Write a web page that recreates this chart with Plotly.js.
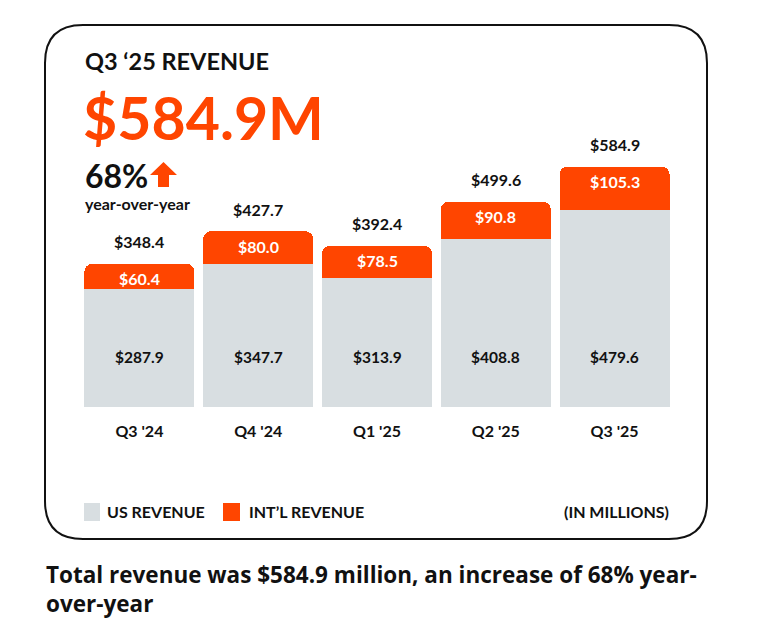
<!DOCTYPE html>
<html>
<head>
<meta charset="utf-8">
<script src="https://cdn.plot.ly/plotly-3.0.1.min.js"></script>
<style>html,body{margin:0;padding:0;background:#fff;}#chart{width:758px;height:642px;}</style>
</head>
<body>
<div id="chart"></div>
<script>
// ---- data ----
const categories = ["Q3 '24", "Q4 '24", "Q1 '25", "Q2 '25", "Q3 '25"];
const usRevenue = [287.9, 347.7, 313.9, 408.8, 479.6];
const intlRevenue = [60.4, 80.0, 78.5, 90.8, 105.3];
const totalRevenue = [348.4, 427.7, 392.4, 499.6, 584.9];
const seriesNames = ["US REVENUE", "INT\u2019L REVENUE"];

// ---- style ----
const W = 758, H = 642;
const ML = 80, MR = 84, MT = 120, MB = 235;
const PW = W - ML - MR, PH = H - MT - MB;
const ORANGE = "#ff4500", GRAY = "#d8dee1", INK = "#111111";
const FONT = "Lato, 'Open Sans', sans-serif";
const FONT2 = "'Open Sans', Lato, sans-serif";
const px = x => (x - ML) / PW;
const py = y => (H - MB - y) / PH;
const fmt = v => "$" + v.toFixed(1);

// rounded border path in paper coords
function roundRect(x0, y0, x1, y1, r) {
  const P = (x, y) => px(x) + "," + py(y);
  return "M" + P(x0 + r, y0) + " L" + P(x1 - r, y0) + " Q" + P(x1, y0) + " " + P(x1, y0 + r) +
    " L" + P(x1, y1 - r) + " Q" + P(x1, y1) + " " + P(x1 - r, y1) +
    " L" + P(x0 + r, y1) + " Q" + P(x0, y1) + " " + P(x0, y1 - r) +
    " L" + P(x0, y0 + r) + " Q" + P(x0, y0) + " " + P(x0 + r, y0) + " Z";
}
function arrowPath(cx, top, bottom, headW, stemW, headH) {
  const P = (x, y) => px(x) + "," + py(y);
  return "M" + P(cx, top) + " L" + P(cx + headW / 2, top + headH) + " L" + P(cx + stemW / 2, top + headH) +
    " L" + P(cx + stemW / 2, bottom) + " L" + P(cx - stemW / 2, bottom) + " L" + P(cx - stemW / 2, top + headH) +
    " L" + P(cx - headW / 2, top + headH) + " Z";
}

const traces = [
  { type: "bar", x: categories, y: usRevenue, name: seriesNames[0],
    marker: { color: GRAY }, hoverinfo: "skip" },
  { type: "bar", x: categories, y: intlRevenue, name: seriesNames[1],
    marker: { color: ORANGE }, hoverinfo: "skip" }
];

const annotations = [];
categories.forEach((c, i) => {
  annotations.push({ x: c, y: totalRevenue[i], xref: "x", yref: "y", text: fmt(totalRevenue[i]),
    showarrow: false, yanchor: "middle", yshift: 22, font: { family: FONT, size: 16, color: INK, weight: 700 } });
  annotations.push({ x: c, y: totalRevenue[i], xref: "x", yref: "y", text: fmt(intlRevenue[i]),
    showarrow: false, yanchor: "middle", yshift: -15, font: { family: FONT, size: 16, color: "#ffffff", weight: 700 } });
  annotations.push({ x: c, y: 0, xref: "x", yref: "y", text: fmt(usRevenue[i]),
    showarrow: false, yanchor: "middle", yshift: 50, font: { family: FONT, size: 15.5, color: INK, weight: 700 } });
});

const textAnn = (x, y, text, size, color, anchor, weight) => ({
  x: px(x), y: py(y), xref: "paper", yref: "paper", text: text, showarrow: false,
  xanchor: anchor || "left", yanchor: "middle", align: "left",
  font: { family: FONT, size: size, color: color, weight: weight || 700 }
});

annotations.push(textAnn(83, 61, "Q3 \u201825 REVENUE", 23.5, INK));
annotations.push(textAnn(81, 117, "$584.9M", 59, ORANGE));
annotations.push(textAnn(83, 175, "68%", 32, INK));
annotations.push(textAnn(83, 203, "year-over-year", 16, INK));
annotations.push(textAnn(105, 512, seriesNames[0], 16, INK));
annotations.push(textAnn(247, 512, seriesNames[1], 16, INK));
annotations.push(textAnn(671, 512, "(IN MILLIONS)", 16, INK, "right"));
annotations.push({ x: px(44), y: py(589), xref: "paper", yref: "paper", showarrow: false,
  xanchor: "left", yanchor: "middle", align: "left",
  text: "Total revenue was $584.9 million, an increase of 68% year-<br>over-year",
  font: { family: FONT2, size: 22.5, color: INK, weight: 700 } });

const shapes = [
  { type: "path", xref: "paper", yref: "paper", path: roundRect(45, 25, 707, 539, 38),
    line: { color: INK, width: 2 }, fillcolor: "rgba(0,0,0,0)", layer: "below" },
  { type: "path", xref: "paper", yref: "paper", path: arrowPath(163.5, 162, 187, 27, 11, 13),
    line: { width: 0 }, fillcolor: ORANGE },
  { type: "rect", xref: "paper", yref: "paper", x0: px(84), x1: px(100), y0: py(503), y1: py(521),
    line: { width: 0 }, fillcolor: GRAY },
  { type: "rect", xref: "paper", yref: "paper", x0: px(223), x1: px(240), y0: py(503), y1: py(521),
    line: { width: 0 }, fillcolor: ORANGE }
];

const layout = {
  width: W, height: H,
  margin: { l: ML, r: MR, t: MT, b: MB, pad: 0 },
  paper_bgcolor: "#ffffff", plot_bgcolor: "#ffffff",
  barmode: "stack", bargap: 0.074, barcornerradius: 8,
  showlegend: false,
  xaxis: { type: "category", range: [-0.5, 4.5], showgrid: false, zeroline: false, showline: false,
    ticks: "", ticklabelstandoff: 13, fixedrange: true,
    tickfont: { family: FONT, size: 16, color: INK, weight: 700 } },
  yaxis: { range: [0, 698], showgrid: false, zeroline: false, showline: false, showticklabels: false,
    ticks: "", fixedrange: true },
  annotations: annotations,
  shapes: shapes
};

Plotly.newPlot("chart", traces, layout, { displayModeBar: false, staticPlot: true });
</script>
</body>
</html>
